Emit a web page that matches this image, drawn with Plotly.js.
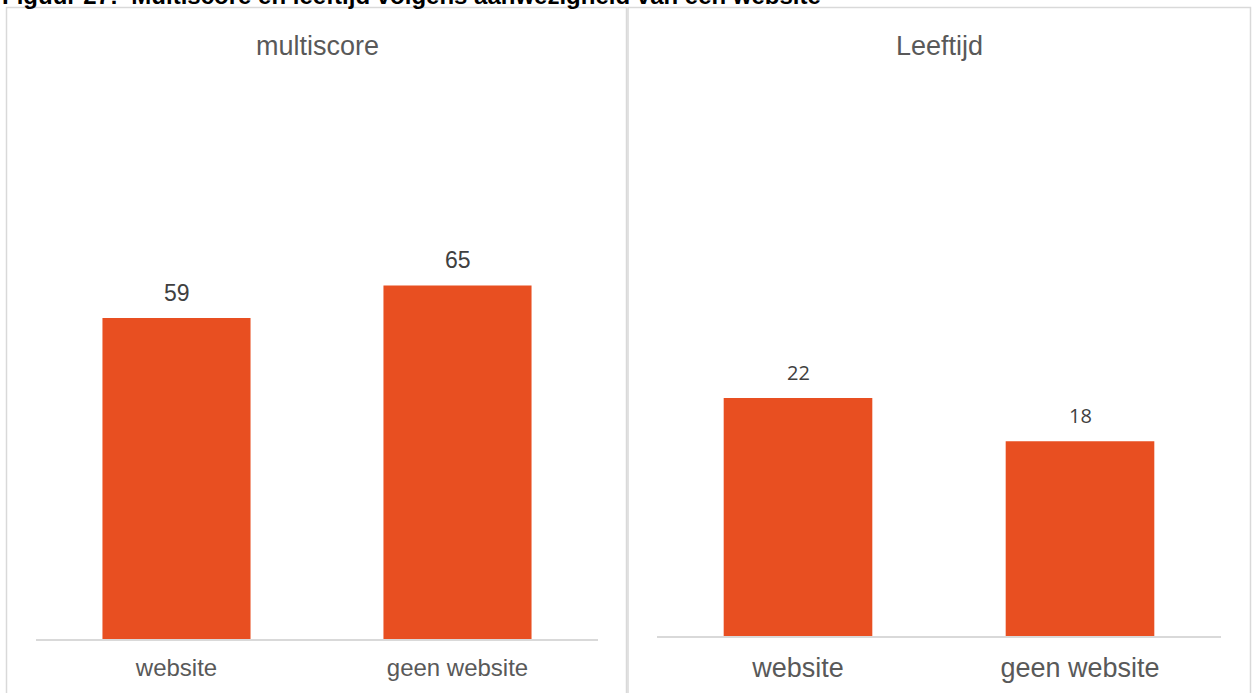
<!DOCTYPE html>
<html>
<head>
<meta charset="utf-8">
<script src="https://cdn.plot.ly/plotly-3.0.1.min.js"></script>
<style>html,body{margin:0;padding:0;background:#fff;}#chart{width:1255px;height:693px;}</style>
</head>
<body>
<div id="chart"></div>
<script>
const figureTitle = "Figuur 27:  Multiscore en leeftijd volgens aanwezigheid van een website";
const categories = ["website", "geen website"];
const panelTitles = ["multiscore", "Leeftijd"];
const multiscore = [59, 65];
const leeftijd = [22, 18];

const barColor = "#E84F21";
const W = 1255, H = 693;
const px = v => v / W, py = v => 1 - v / H;

const traces = [
  {type: "bar", x: categories, y: multiscore, xaxis: "x", yaxis: "y",
   marker: {color: barColor}, hoverinfo: "none", showlegend: false},
  {type: "bar", x: categories, y: leeftijd, xaxis: "x2", yaxis: "y2",
   marker: {color: barColor}, hoverinfo: "none", showlegend: false}
];

const annotations = [];
annotations.push({text: "<b>" + figureTitle + "</b>", xref: "paper", yref: "paper",
  x: 0, xanchor: "left", y: py(-4), yanchor: "middle", showarrow: false,
  font: {family: "Liberation Sans, Arial", size: 24, color: "#000"}});
annotations.push({text: panelTitles[0], xref: "paper", yref: "paper", x: px(317), y: py(46),
  xanchor: "center", yanchor: "middle", showarrow: false,
  font: {family: "Liberation Sans, Arial", size: 27, color: "#595959"}});
annotations.push({text: panelTitles[1], xref: "paper", yref: "paper", x: px(939), y: py(46),
  xanchor: "center", yanchor: "middle", showarrow: false,
  font: {family: "Liberation Sans, Arial", size: 27, color: "#595959"}});
categories.forEach((c, i) => {
  annotations.push({text: String(multiscore[i]), xref: "x", yref: "y", x: c, y: multiscore[i],
    xanchor: "center", yanchor: "bottom", yshift: 10, showarrow: false,
    font: {family: "Liberation Sans, Arial", size: 23, color: "#404040"}});
  annotations.push({text: String(leeftijd[i]), xref: "x2", yref: "y2", x: c, y: leeftijd[i],
    xanchor: "center", yanchor: "bottom", yshift: 10, showarrow: false,
    font: {family: "Open Sans, Noto Sans", size: 20, color: "#404040"}});
});

const border = "#D9D9D9";
const shapes = [
  {type: "rect", xref: "paper", yref: "paper", x0: px(6.5), x1: px(626.5), y0: py(7.5), y1: py(720),
   line: {color: border, width: 1.5}},
  {type: "rect", xref: "paper", yref: "paper", x0: px(628), x1: px(1250.5), y0: py(7.5), y1: py(720),
   line: {color: border, width: 1.5}}
];

const layout = {
  width: W, height: H,
  margin: {l: 0, r: 0, t: 0, b: 0},
  paper_bgcolor: "#fff", plot_bgcolor: "rgba(0,0,0,0)",
  bargap: 0.473,
  xaxis: {domain: [px(36), px(598)], anchor: "y", showline: true, linecolor: border, linewidth: 2,
    ticks: "", showgrid: false, zeroline: false, fixedrange: true, ticklabelstandoff: 6,
    tickfont: {family: "Liberation Sans, Arial", size: 24, color: "#595959"}},
  yaxis: {domain: [1 - 639 / H, py(69.3)], range: [0, (639 - 69.3) / 5.44], anchor: "x",
    visible: false, fixedrange: true},
  xaxis2: {domain: [px(657), px(1221)], anchor: "y2", showline: true, linecolor: border, linewidth: 2,
    ticks: "", showgrid: false, zeroline: false, fixedrange: true, ticklabelstandoff: 7,
    tickfont: {family: "Liberation Sans, Arial", size: 27, color: "#595959"}},
  yaxis2: {domain: [1 - 636 / H, py(69.3)], range: [0, (636 - 69.3) / 10.82], anchor: "x2",
    visible: false, fixedrange: true},
  annotations: annotations,
  shapes: shapes
};

Plotly.newPlot("chart", traces, layout, {displayModeBar: false, staticPlot: true});
</script>
</body>
</html>
